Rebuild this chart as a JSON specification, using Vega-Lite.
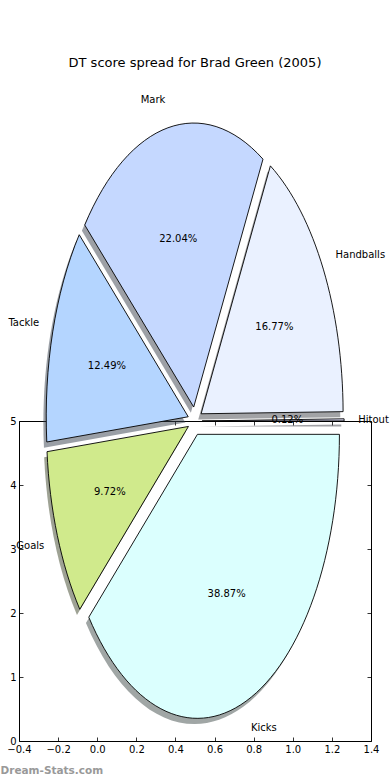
{
  "$schema": "https://vega.github.io/schema/vega-lite/v6.json",
  "width": 352,
  "height": 320,
  "autosize": {"type": "none"},
  "padding": {"left": 19, "top": 421, "right": 19, "bottom": 39},
  "background": "white",
  "config": {
    "view": {"stroke": null},
    "font": "DejaVu Sans",
    "axis": {"grid": false, "domainColor": "black", "tickColor": "black", "tickWidth": 0.8, "domainWidth": 1, "labelColor": "black", "labelFont": "DejaVu Sans", "labelFontSize": 10, "labelFlush": false, "labelOverlap": false}
  },
  "title": {"text": "DT score spread for Brad Green (2005)", "fontSize": 13, "fontWeight": "normal", "font": "DejaVu Sans", "color": "black", "anchor": "middle", "offset": 19, "baseline": "middle"},
  "data": {"values": [
    {"name": "Hitout", "pct": 0.12},
    {"name": "Handballs", "pct": 16.77},
    {"name": "Mark", "pct": 22.04},
    {"name": "Tackle", "pct": 12.49},
    {"name": "Goals", "pct": 9.72},
    {"name": "Kicks", "pct": 38.87}
  ]},
  "transform": [
    {"joinaggregate": [{"op": "sum", "field": "pct", "as": "total"}]},
    {"window": [{"op": "sum", "field": "pct", "as": "cum"}], "frame": [null, 0]},
    {"calculate": "2*PI*(datum.cum-datum.pct)/datum.total", "as": "t0"},
    {"calculate": "2*PI*datum.cum/datum.total", "as": "t1"},
    {"calculate": "(datum.t0+datum.t1)/2", "as": "tm"},
    {"calculate": "0.05*cos(datum.tm)", "as": "ex"},
    {"calculate": "-0.1*sin(datum.tm)", "as": "ey"},
    {"calculate": "'M'+round(datum.ex*1e4)/1e4+','+round(datum.ey*1e4)/1e4+'L'+round((datum.ex+cos(datum.t0))*1e4)/1e4+','+round((datum.ey-2*sin(datum.t0))*1e4)/1e4+'A1,2,0,0,0,'+round((datum.ex+cos(datum.t1))*1e4)/1e4+','+round((datum.ey-2*sin(datum.t1))*1e4)/1e4+'Z'", "as": "wedge"},
    {"calculate": "0.5+0.726*0.65*cos(datum.tm)", "as": "px"},
    {"calculate": "5+4.4375*0.65*sin(datum.tm)", "as": "py"},
    {"calculate": "0.5+0.726*1.15*cos(datum.tm)", "as": "nx"},
    {"calculate": "5+4.4375*1.15*sin(datum.tm)", "as": "ny"},
    {"calculate": "format(datum.pct, '.2f')+'%'", "as": "pctLabel"}
  ],
  "layer": [
    {
      "mark": {"type": "point", "filled": true, "size": 80656, "opacity": 1, "fillOpacity": 0.5, "strokeWidth": 0, "xOffset": -2.84, "yOffset": 5.68},
      "encoding": {
        "x": {"datum": 0.5, "type": "quantitative", "scale": {"domain": [-0.4, 1.4], "nice": false, "zero": false},
          "axis": {"orient": "bottom", "values": [-0.4, -0.2, 0, 0.2, 0.4, 0.6, 0.8, 1.0, 1.2, 1.4], "format": ".1f", "tickSize": -4, "labelPadding": 7,
            "title": "Dream-Stats.com", "titleAnchor": "start", "titleAlign": "left", "titleX": -19, "titleY": 29, "titleBaseline": "middle", "titleColor": "#999999", "titleFontSize": 10.5, "titleFontWeight": "bold", "titleFont": "DejaVu Sans"}},
        "y": {"datum": 5, "type": "quantitative", "scale": {"domain": [0, 5], "nice": false, "zero": false},
          "axis": {"orient": "left", "values": [0, 1, 2, 3, 4, 5], "format": "d", "tickSize": -4, "labelPadding": 7, "title": null}},
        "shape": {"field": "wedge", "type": "nominal", "scale": null, "legend": null},
        "fill": {"field": "name", "type": "nominal", "legend": null,
          "scale": {"domain": ["Hitout", "Handballs", "Mark", "Tackle", "Goals", "Kicks"], "range": ["#44444d", "#46484d", "#3b414d", "#36404d", "#3e462a", "#424d4c"]}}
      }
    },
    {
      "mark": {"type": "point", "filled": true, "size": 80656, "opacity": 1, "stroke": "black", "strokeWidth": 0.9},
      "encoding": {
        "x": {"datum": 0.5, "type": "quantitative", "scale": {"domain": [-0.4, 1.4], "nice": false, "zero": false},
          "axis": {"orient": "top", "values": [-0.4, -0.2, 0, 0.2, 0.4, 0.6, 0.8, 1.0, 1.2, 1.4], "labels": false, "tickSize": -4, "title": null}},
        "y": {"datum": 5, "type": "quantitative", "scale": {"domain": [0, 5], "nice": false, "zero": false},
          "axis": {"orient": "right", "values": [0, 1, 2, 3, 4, 5], "labels": false, "tickSize": -4, "title": null}},
        "shape": {"field": "wedge", "type": "nominal", "scale": null, "legend": null},
        "color": {"field": "name", "type": "nominal", "legend": null,
          "scale": {"domain": ["Hitout", "Handballs", "Mark", "Tackle", "Goals", "Kicks"], "range": ["#e4e4ff", "#eaf1ff", "#c5d8ff", "#b4d5ff", "#d0ea8c", "#dbfffe"]}}
      }
    },
    {
      "mark": {"type": "text", "fontSize": 10, "align": "center", "baseline": "middle", "color": "black", "font": "DejaVu Sans"},
      "encoding": {
        "x": {"field": "px", "type": "quantitative", "scale": {"domain": [-0.4, 1.4], "nice": false, "zero": false}, "axis": null},
        "y": {"field": "py", "type": "quantitative", "scale": {"domain": [0, 5], "nice": false, "zero": false}, "axis": null},
        "text": {"field": "pctLabel"}
      }
    },
    {
      "transform": [{"filter": "cos(datum.tm) > 0"}],
      "mark": {"type": "text", "fontSize": 10, "align": "left", "baseline": "middle", "color": "black", "font": "DejaVu Sans"},
      "encoding": {
        "x": {"field": "nx", "type": "quantitative", "scale": {"domain": [-0.4, 1.4], "nice": false, "zero": false}, "axis": null},
        "y": {"field": "ny", "type": "quantitative", "scale": {"domain": [0, 5], "nice": false, "zero": false}, "axis": null},
        "text": {"field": "name"}
      }
    },
    {
      "transform": [{"filter": "cos(datum.tm) <= 0"}],
      "mark": {"type": "text", "fontSize": 10, "align": "right", "baseline": "middle", "color": "black", "font": "DejaVu Sans"},
      "encoding": {
        "x": {"field": "nx", "type": "quantitative", "scale": {"domain": [-0.4, 1.4], "nice": false, "zero": false}, "axis": null},
        "y": {"field": "ny", "type": "quantitative", "scale": {"domain": [0, 5], "nice": false, "zero": false}, "axis": null},
        "text": {"field": "name"}
      }
    }
  ],
  "resolve": {"axis": {"x": "independent", "y": "independent"}}
}
